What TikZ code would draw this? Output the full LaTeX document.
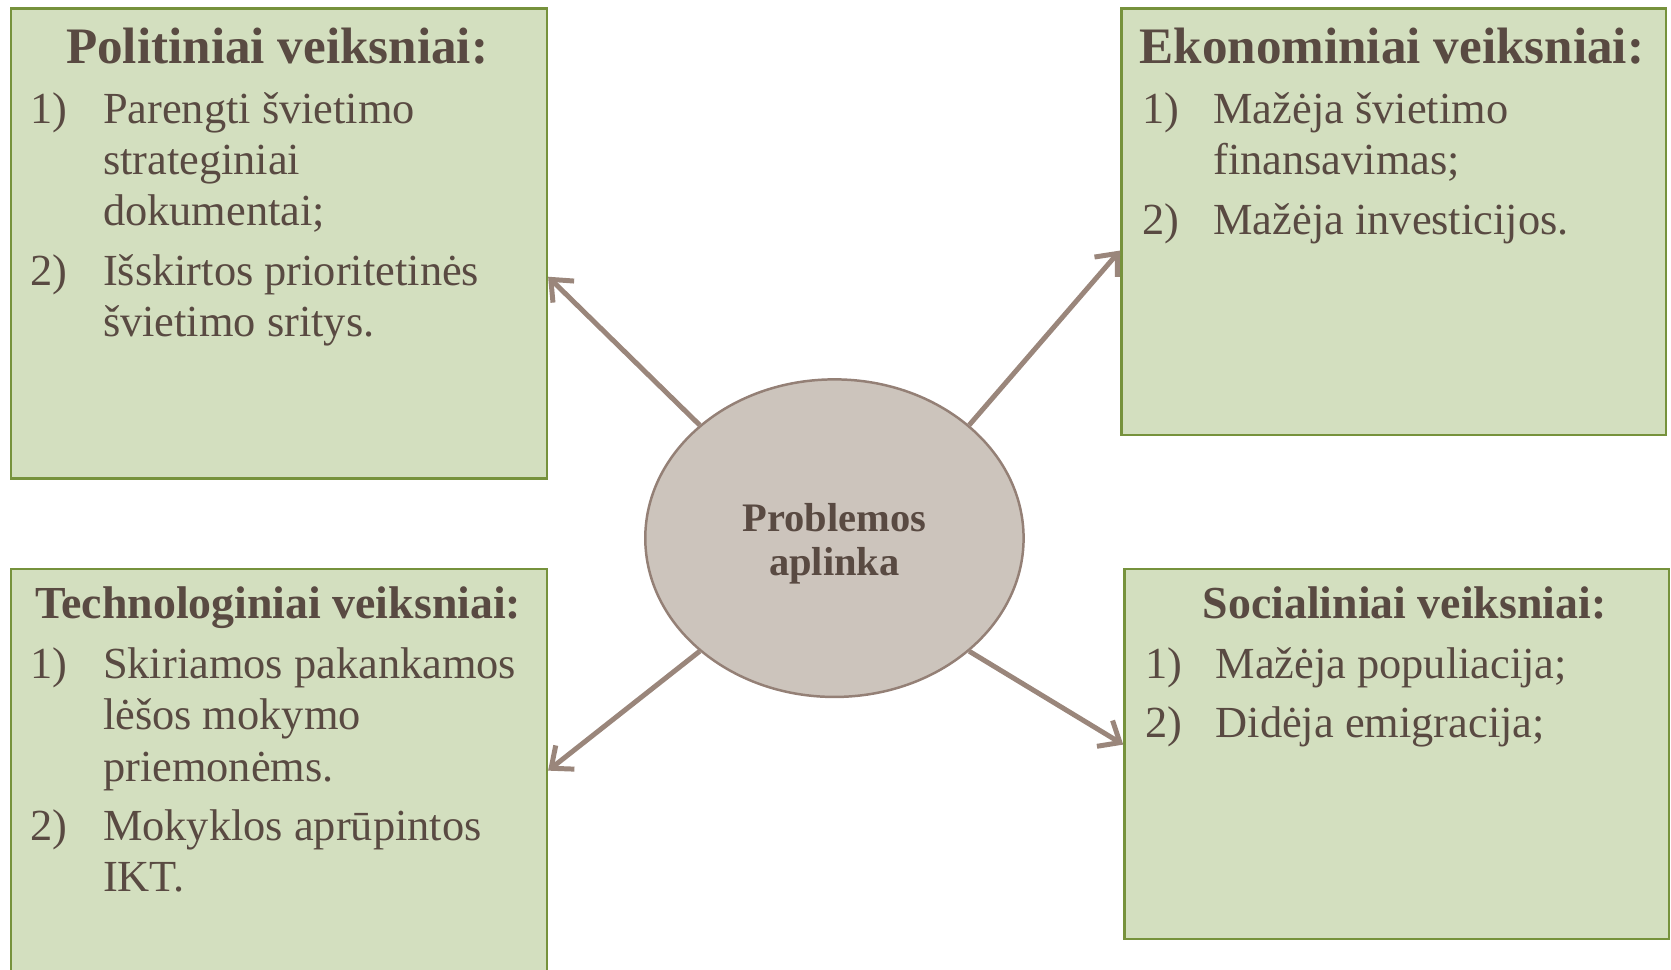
\documentclass[tikz,border=0pt]{standalone}
\usepackage{fontspec}
\setmainfont{Liberation Serif}
\usepackage{xcolor}
\usetikzlibrary{shapes,arrows.meta}
\definecolor{boxfill}{HTML}{D3DFBF}
\definecolor{boxline}{HTML}{76923C}
\definecolor{ellfill}{HTML}{CCC4BC}
\definecolor{ellline}{HTML}{948076}
\definecolor{arrcol}{HTML}{9A867B}
\definecolor{txtcol}{HTML}{594A42}

\begin{document}
\begin{tikzpicture}[x=0.3pt, y=-0.3pt,
	factor/.style={draw=boxline, line width=0.7pt, fill=boxfill, inner sep=0, anchor=north west},
	heading/.style={font=\fontsize{14.4}{17}\selectfont\bfseries, text=txtcol, inner sep=0, anchor=base},
	subheading/.style={heading, font=\fontsize{12.9}{15}\selectfont\bfseries},
	num/.style={font=\fontsize{12.5}{14.4}\selectfont, text=txtcol, inner sep=0, anchor=base west},
	itemtxt/.style={num},
	centre/.style={ellipse, draw=ellline, line width=0.7pt, fill=ellfill, minimum width=106.5pt, minimum height=89.4pt, inner sep=0, align=center, font=\fontsize{11.4}{12.3}\selectfont\bfseries, text=txtcol},
	link/.style={draw=arrcol, line width=1.4pt, -{Straight Barb[length=5pt, width=8.5pt, line width=1.4pt]}}
]
\path[use as bounding box, clip] (0,0) rectangle (1568,910);

\node[factor, minimum width=150.9pt, minimum height=132.3pt] (pol) at (9,7) {};
\node[factor, minimum width=153.3pt, minimum height=120pt] (eko) at (1051,7) {};
\node[factor, minimum width=150.9pt, minimum height=132pt] (tech) at (9,533) {};
\node[factor, minimum width=153.3pt, minimum height=104.1pt] (soc) at (1054,533) {};

\node[centre, minimum width=106.5pt, minimum height=89.4pt] (ctr) at (783,505) {};
\node[centre, draw=none, fill=none, minimum width=0pt, minimum height=0pt] (ctrtxt) at (783,510) {Problemos\\aplinka};

\draw[link] (ctr.140) -- (pol.-7.4);
\draw[link] (ctr.40) -- (eko.-174.4);
\draw[link] (ctr.220) -- (tech.7.5);
\draw[link] (ctr.320) -- (soc.178.5);

\node[heading] (polhead) at (260,60) {Politiniai veiksniai:};
\node[num] (pol1) at (28,116) {1)};
\node[itemtxt] (pol1a) at (96,116) {Parengti švietimo};
\node[itemtxt] (pol1b) at (96,164) {strateginiai};
\node[itemtxt] (pol1c) at (96,212) {dokumentai;};
\node[num] (pol2) at (28,268) {2)};
\node[itemtxt] (pol2a) at (96,268) {Išskirtos prioritetinės};
\node[itemtxt] (pol2b) at (96,316) {švietimo sritys.};

\node[heading] (ekohead) at (1306,60) {Ekonominiai veiksniai:};
\node[num] (eko1) at (1071,116) {1)};
\node[itemtxt] (eko1a) at (1138,116) {Mažėja švietimo};
\node[itemtxt] (eko1b) at (1138,164) {finansavimas;};
\node[num] (eko2) at (1071,220) {2)};
\node[itemtxt] (eko2a) at (1138,220) {Mažėja investicijos.};

\node[subheading] (techhead) at (261,580) {Technologiniai veiksniai:};
\node[num] (tech1) at (28,637) {1)};
\node[itemtxt] (tech1a) at (96,637) {Skiriamos pakankamos};
\node[itemtxt] (tech1b) at (96,685) {lėšos mokymo};
\node[itemtxt] (tech1c) at (96,733) {priemonėms.};
\node[num] (tech2) at (28,789) {2)};
\node[itemtxt] (tech2a) at (96,789) {Mokyklos aprūpintos};
\node[itemtxt] (tech2b) at (96,837) {IKT.};

\node[subheading] (sochead) at (1318,580) {Socialiniai veiksniai:};
\node[num] (soc1) at (1074,637) {1)};
\node[itemtxt] (soc1a) at (1140,637) {Mažėja populiacija;};
\node[num] (soc2) at (1074,692) {2)};
\node[itemtxt] (soc2a) at (1140,692) {Didėja emigracija;};
\end{tikzpicture}
\end{document}
